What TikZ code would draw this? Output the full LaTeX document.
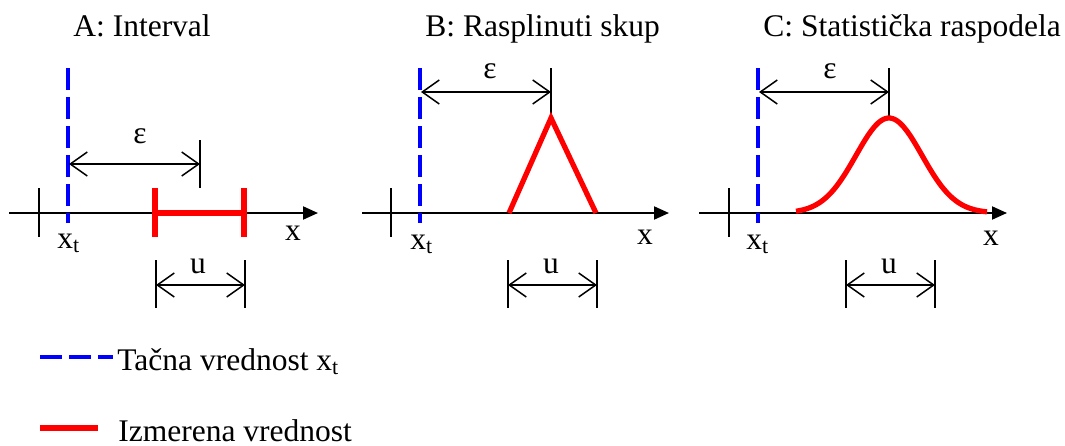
\documentclass[tikz,border=0pt]{standalone}
\usepackage{fontspec}
\setmainfont{Liberation Serif}
\usetikzlibrary{arrows.meta}
\definecolor{tvblue}{RGB}{0,0,255}
\definecolor{mred}{RGB}{255,0,0}
\tikzset{
  axisline/.style={line width=1pt,-{Triangle[length=7.5pt,width=6.5pt]}},
  thinline/.style={line width=0.7pt},
  dimline/.style={line width=0.75pt,{Straight Barb[length=8.5pt,width=12pt]}-{Straight Barb[length=8.5pt,width=12pt]}},
  truev/.style={tvblue,line width=1.75pt,dash pattern=on 11pt off 3.5pt},
  meas/.style={mred,line width=2.6pt},
  lbl/.style={inner sep=0pt,anchor=base,font=\fontsize{15.75}{18}\selectfont},
  lblw/.style={lbl,anchor=base west}
}
\begin{document}
\begin{tikzpicture}[x=0.5pt,y=-0.5pt]
\useasboundingbox (0,0) rectangle (1065,445);
% titles
\node[lblw] (tA) at (73,36) {A: Interval};
\node[lblw] (tB) at (425,36) {B: Rasplinuti skup};
\node[lblw] (tC) at (763,36) {C: Statistička raspodela};

% ---------- Panel A ----------
\coordinate (aS) at (9,213); \coordinate (aE) at (318,213);
\draw[axisline] (aS) -- (aE);
\draw[thinline] (39,188) coordinate (aT1) -- (39,237) coordinate (aT2);
\coordinate (aB1) at (68,68); \coordinate (aB2) at (68,223);
\draw[truev] (aB1) -- (aB2);
\coordinate (aEt1) at (200,140); \coordinate (aEt2) at (200,188);
\draw[thinline] (aEt1) -- (aEt2);
\draw[dimline] (69,164) coordinate (aD1) -- (200,164) coordinate (aD2);
\node[lbl] (aEps) at (140,143) {ε};
\coordinate (aR1) at (155,213); \coordinate (aR2) at (244,213);
\draw[meas] (aR1) -- (aR2);
\draw[meas] (155,188) coordinate (aR1t) -- (155,237) coordinate (aR1b);
\draw[meas] (244,188) coordinate (aR2t) -- (244,237) coordinate (aR2b);
\node[lbl] (aX) at (293,240) {x};
\node[lblw] (aXt) at (57,248) {x\textsubscript{t}};
\draw[thinline] (156,260) coordinate (aU1t) -- (156,308) coordinate (aU1b);
\draw[thinline] (245,260) coordinate (aU2t) -- (245,308) coordinate (aU2b);
\draw[dimline] (156,285) coordinate (aU1) -- (245,285) coordinate (aU2);
\node[lbl] (aU) at (198,273) {u};

% ---------- Panel B ----------
\coordinate (bS) at (362,213); \coordinate (bE) at (669,213);
\draw[axisline] (bS) -- (bE);
\draw[thinline] (391,188) coordinate (bT1) -- (391,237) coordinate (bT2);
\coordinate (bB1) at (420,68); \coordinate (bB2) at (420,223);
\draw[truev] (bB1) -- (bB2);
\coordinate (bEt1) at (551,68); \coordinate (bEt2) at (551,116);
\draw[thinline] (bEt1) -- (bEt2);
\draw[dimline] (421,92) coordinate (bD1) -- (551,92) coordinate (bD2);
\node[lbl] (bEps) at (490,78) {ε};
\coordinate (bP1) at (509,213); \coordinate (bP2) at (551,118); \coordinate (bP3) at (596,213);
\draw[meas] (bP1) -- (bP2) -- (bP3);
\node[lbl] (bX) at (645,244) {x};
\node[lblw] (bXt) at (410,249) {x\textsubscript{t}};
\draw[thinline] (508,260) coordinate (bU1t) -- (508,308) coordinate (bU1b);
\draw[thinline] (597,260) coordinate (bU2t) -- (597,308) coordinate (bU2b);
\draw[dimline] (508,285) coordinate (bU1) -- (597,285) coordinate (bU2);
\node[lbl] (bU) at (551,273) {u};

% ---------- Panel C ----------
\coordinate (cS) at (699,213); \coordinate (cE) at (1007,213);
\draw[axisline] (cS) -- (cE);
\draw[thinline] (729,188) coordinate (cT1) -- (729,237) coordinate (cT2);
\coordinate (cB1) at (758,68); \coordinate (cB2) at (758,223);
\draw[truev] (cB1) -- (cB2);
\coordinate (cEt1) at (889,68); \coordinate (cEt2) at (889,116);
\draw[thinline] (cEt1) -- (cEt2);
\draw[dimline] (759,92) coordinate (cD1) -- (889,92) coordinate (cD2);
\node[lbl] (cEps) at (830,78) {ε};
\draw[meas,smooth] plot[domain=796:987,samples=80] (\x,{213-95*exp(-((\x-889)*(\x-889))/2178)});
\node[lbl] (cX) at (991,245) {x};
\node[lblw] (cXt) at (746,249) {x\textsubscript{t}};
\draw[thinline] (846,260) coordinate (cU1t) -- (846,308) coordinate (cU1b);
\draw[thinline] (935,260) coordinate (cU2t) -- (935,308) coordinate (cU2b);
\draw[dimline] (846,285) coordinate (cU1) -- (935,285) coordinate (cU2);
\node[lbl] (cU) at (889,273) {u};

% ---------- Legend ----------
\coordinate (lb1) at (40,357); \coordinate (lb2) at (113,357);
\draw[truev] (lb1) -- (lb2);
\node[lblw] (lbT) at (117,370) {Tačna vrednost x\textsubscript{t}};
\coordinate (lr1) at (40,428); \coordinate (lr2) at (98,428);
\draw[meas,line width=3pt] (lr1) -- (lr2);
\node[lblw] (lrT) at (118,441) {Izmerena vrednost};
\end{tikzpicture}
\end{document}
